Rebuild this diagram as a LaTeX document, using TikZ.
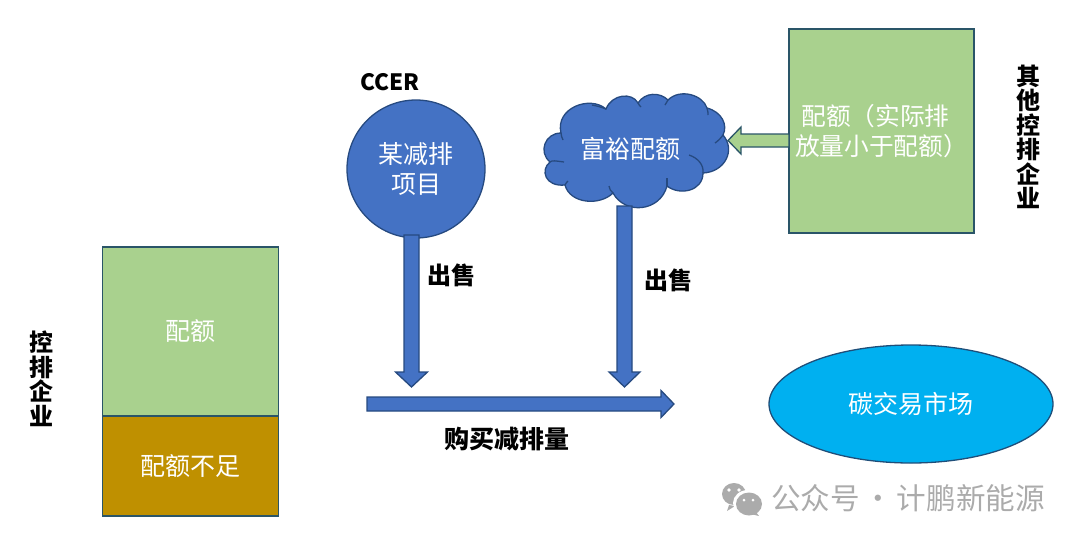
\documentclass[tikz,border=0pt]{standalone}
\usepackage{fontspec}
\setmainfont{Noto Sans CJK SC}
\usetikzlibrary{calc,shapes.geometric}
\definecolor{blueF}{HTML}{4472C4}
\definecolor{blueL}{HTML}{264A80}
\definecolor{greenF}{HTML}{A9D18E}
\definecolor{greenL}{HTML}{2A5568}
\definecolor{brownF}{HTML}{BF9000}
\definecolor{skyF}{HTML}{00B0F0}
\definecolor{skyL}{HTML}{1F4E79}
\definecolor{wm}{HTML}{ABABAB}
\newcommand{\fs}[1]{\fontsize{#1}{#1}\selectfont}
% block arrow from named point #2 to named point #3: half width #4, head half width #5, head length #6
\newcommand{\blockarrow}[6][]{%
  \coordinate (hb) at ($(#3)!#6!(#2)$);
  \draw[#1] ($(#2)!#4!90:(#3)$) -- ($(hb)!#4!90:(#3)$) -- ($(hb)!#5!90:(#3)$) -- (#3)
    -- ($(hb)!#5!-90:(#3)$) -- ($(hb)!#4!-90:(#3)$) -- ($(#2)!#4!-90:(#3)$) -- cycle;}
\tikzset{
  box/.style={draw=greenL,line width=1.3pt,inner sep=0pt,minimum width=#1},
  lbl/.style={inner sep=0pt,align=center,text=white,font=\fs{25}},
  side/.style={inner sep=0pt,align=center,text=black,font=\bfseries\fontsize{24}{24.5}\selectfont},
  tag/.style={inner sep=0pt,text=black,font=\bfseries\fs{24}},
  bluearrow/.style={fill=blueF,draw=blueL,line width=1.3pt,line join=miter},
  greenarrow/.style={fill=greenF,draw=greenL,line width=1.3pt,line join=miter},
  cloudline/.style={draw=blueL,line width=1.3pt},
}
\begin{document}
\begin{tikzpicture}[x=1pt,y=-1pt]
\useasboundingbox (0,0) rectangle (1080,542);
% left company
\node[box=176pt,fill=greenF,minimum height=169pt,lbl] (quota) at (190.8,331.5) {配额};
\node[box=176pt,fill=brownF,minimum height=100pt,lbl] (short) at (190.8,466) {配额不足};
\node[side] (ctrl) at (41,379) {控\\排\\企\\业};
% CCER
\node[circle,draw=blueL,fill=blueF,line width=1.3pt,minimum size=138pt,inner sep=0pt,lbl,font=\fontsize{25}{30}\selectfont] (proj) at (416,169) {某减排\\项目};
\node[inner sep=0pt,font=\bfseries\fs{22.5}] (ccer) at (390,82) {CCER};
% cloud
\path[cloudline,fill=blueF]
  (550,162) .. controls (538,152) and (545,133) .. (561,133)
  .. controls (555,108) and (590,95) .. (606,109)
  .. controls (612,94) and (632,92) .. (638,103)
  .. controls (645,92) and (660,92) .. (668,100)
  .. controls (680,88) and (703,95) .. (707,108)
  .. controls (722,112) and (728,125) .. (723,135)
  .. controls (736,150) and (725,172) .. (703,173)
  .. controls (703,191) and (680,196) .. (667,186)
  .. controls (660,212) and (625,215) .. (613,193)
  .. controls (600,206) and (570,204) .. (565,185)
  .. controls (545,187) and (540,170) .. (550,162) -- cycle;
\draw[cloudline] (550,162) .. controls (552,160) and (556,161) .. (564,162);
\draw[cloudline] (561,133) .. controls (561,135) and (562,138) .. (563,140);
\draw[cloudline] (606,109) .. controls (601,107) and (597,106) .. (592,105);
\draw[cloudline] (638,103) .. controls (639,105) and (640,106) .. (641,107);
\draw[cloudline] (668,100) .. controls (667,102) and (666,103) .. (665,105);
\draw[cloudline] (707,108) .. controls (708,111) and (708,113) .. (708,115);
\draw[cloudline] (723,135) .. controls (721,138) and (718,141) .. (715,143);
\draw[cloudline] (703,173) .. controls (704,165) and (698,158) .. (689,155);
\draw[cloudline] (667,186) .. controls (667,183) and (667,181) .. (667,178);
\draw[cloudline] (613,193) .. controls (611,191) and (609,189) .. (609,186);
\draw[cloudline] (565,185) .. controls (566,183) and (567,182) .. (568,181);
\node[lbl] (rich) at (630,149) {富裕配额};
% right company
\node[box=185pt,fill=greenF,minimum height=204pt,lbl,font=\fontsize{24.7}{30}\selectfont] (other) at (881.5,131) {配额（实际排\hspace{12pt}\mbox{}\\放量小于配额）};
\node[side] (otherco) at (1028,137) {其\\他\\控\\排\\企\\业};
% market
\node[ellipse,draw=skyL,fill=skyF,line width=1.3pt,minimum width=284pt,minimum height=118pt,inner sep=0pt,lbl] (market) at (911,404) {碳交易市场};
% connectors
\coordinate (c1) at (411.5,235);
\coordinate (t1) at (411.5,387);
\coordinate (c2) at (624.5,206);
\coordinate (t2) at (624.5,387);
\coordinate (s3) at (367,404);
\coordinate (t3) at (674,404);
\coordinate (s4) at (789,140.5);
\coordinate (t4) at (728,140.5);
\blockarrow[bluearrow]{c1}{t1}{7.5pt}{16pt}{15pt}
\blockarrow[bluearrow]{c2}{t2}{7.5pt}{15.5pt}{15pt}
\blockarrow[bluearrow]{s3}{t3}{7pt}{13.5pt}{13pt}
\blockarrow[greenarrow]{s4}{t4}{6.5pt}{13.5pt}{13pt}
\node[tag] (sale1) at (451,275) {出售};
\node[tag] (sale2) at (668,280) {出售};
\node[tag,font=\bfseries\fs{25}] (buy) at (507,439) {购买减排量};
% watermark
\fill[wm] (734,494) ellipse (12pt and 11pt);
\fill[wm] (729,505) -- (727,511) -- (735,506) -- cycle;
\fill[white] (748,503) ellipse (15pt and 13pt);
\fill[wm] (749,504) ellipse (13pt and 11.5pt);
\fill[wm] (756,512) -- (759,516) -- (751,514) -- cycle;
\fill[white] (729,490) circle (1.8pt) (739,490) circle (1.8pt) (744,500) circle (1.5pt) (753,500) circle (1.5pt);
\node[inner sep=0pt,anchor=west,text=wm,font=\fs{29.6}] (mark) at (771,498) {公众号\hspace{3.7pt}·\hspace{3.7pt}计鹏新能源};
\end{tikzpicture}
\end{document}
